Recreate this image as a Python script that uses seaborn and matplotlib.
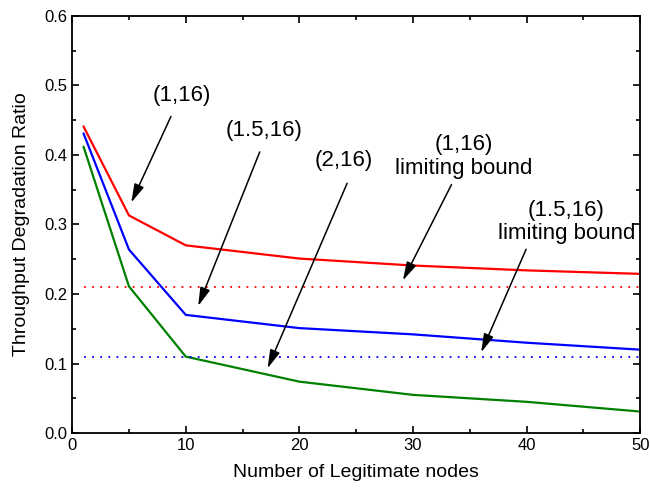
import seaborn as sns
import pandas as pd
import numpy as np
import matplotlib.pyplot as plt
from matplotlib.ticker import MultipleLocator

nodes = [1, 5, 10, 20, 30, 40, 50]
ratio_1_16 = [0.441, 0.313, 0.270, 0.251, 0.241, 0.234, 0.229]
ratio_15_16 = [0.431, 0.264, 0.170, 0.151, 0.142, 0.130, 0.120]
ratio_2_16 = [0.412, 0.211, 0.110, 0.074, 0.055, 0.045, 0.031]
bound_1_16 = 0.21
bound_15_16 = 0.11

sns.set_style("ticks")
plt.rcParams['font.family'] = ['Liberation Sans', 'DejaVu Sans']
plt.rcParams['xtick.direction'] = 'in'
plt.rcParams['ytick.direction'] = 'in'
plt.rcParams['text.color'] = 'black'
plt.rcParams['axes.labelcolor'] = 'black'
plt.rcParams['xtick.color'] = 'black'
plt.rcParams['ytick.color'] = 'black'
plt.rcParams['axes.edgecolor'] = 'black'

fig = plt.figure(figsize=(6.5, 4.95), dpi=100)
ax = fig.add_axes([0.111, 0.125, 0.874, 0.843])

df = pd.DataFrame({'n': nodes * 3,
                   'r': ratio_1_16 + ratio_15_16 + ratio_2_16,
                   's': ['(1,16)'] * 7 + ['(1.5,16)'] * 7 + ['(2,16)'] * 7})
sns.lineplot(data=df, x='n', y='r', hue='s', palette=['red', 'blue', 'green'],
             linewidth=1.6, legend=False, ax=ax)

ax.plot([nodes[0], nodes[-1]], [bound_1_16] * 2, color='red', ls=(0, (1, 3.5)), lw=1.3)
ax.plot([nodes[0], nodes[-1]], [bound_15_16] * 2, color='blue', ls=(0, (1, 3.5)), lw=1.3)

ax.set_xlim(0, 50)
ax.set_ylim(0, 0.6)
ax.xaxis.set_major_locator(MultipleLocator(10))
ax.xaxis.set_minor_locator(MultipleLocator(5))
ax.yaxis.set_major_locator(MultipleLocator(0.1))
ax.yaxis.set_minor_locator(MultipleLocator(0.05))
ax.yaxis.set_major_formatter(plt.FormatStrFormatter('%.1f'))
ax.tick_params(which='major', length=5, width=1.2, labelsize=12)
ax.tick_params(which='minor', length=3, width=1.2)
ax.tick_params(top=True, right=True, which='both', labeltop=False, labelright=False)
for s in ax.spines.values():
    s.set_linewidth(1.3)

ax.set_xlabel('Number of Legitimate nodes', fontsize=14, labelpad=8)
ax.set_ylabel('Throughput Degradation Ratio', fontsize=14, labelpad=10)

arrow = dict(arrowstyle='-|>,head_length=0.8,head_width=0.22', color='black',
             lw=1.1, mutation_scale=14)
fs = 16
ax.annotate('', xy=(5.1, 0.328), xytext=(8.8, 0.459), arrowprops=arrow)
ax.text(9.65, 0.485, '(1,16)', fontsize=fs, ha='center', va='center')
ax.annotate('', xy=(11.0, 0.179), xytext=(16.6, 0.408), arrowprops=arrow)
ax.text(16.9, 0.435, '(1.5,16)', fontsize=fs, ha='center', va='center')
ax.annotate('', xy=(17.1, 0.0895), xytext=(24.3, 0.363), arrowprops=arrow)
ax.text(23.9, 0.392, '(2,16)', fontsize=fs, ha='center', va='center')
ax.annotate('', xy=(29.0, 0.216), xytext=(33.5, 0.361), arrowprops=arrow)
ax.text(34.45, 0.398, '(1,16)\nlimiting bound', fontsize=fs, ha='center', va='center',
        linespacing=1.15)
ax.annotate('', xy=(35.9, 0.1125), xytext=(40.05, 0.268), arrowprops=arrow)
ax.text(43.5, 0.304, '(1.5,16)\nlimiting bound', fontsize=fs, ha='center', va='center',
        linespacing=1.15)

fig.savefig('out.png', dpi=100)
